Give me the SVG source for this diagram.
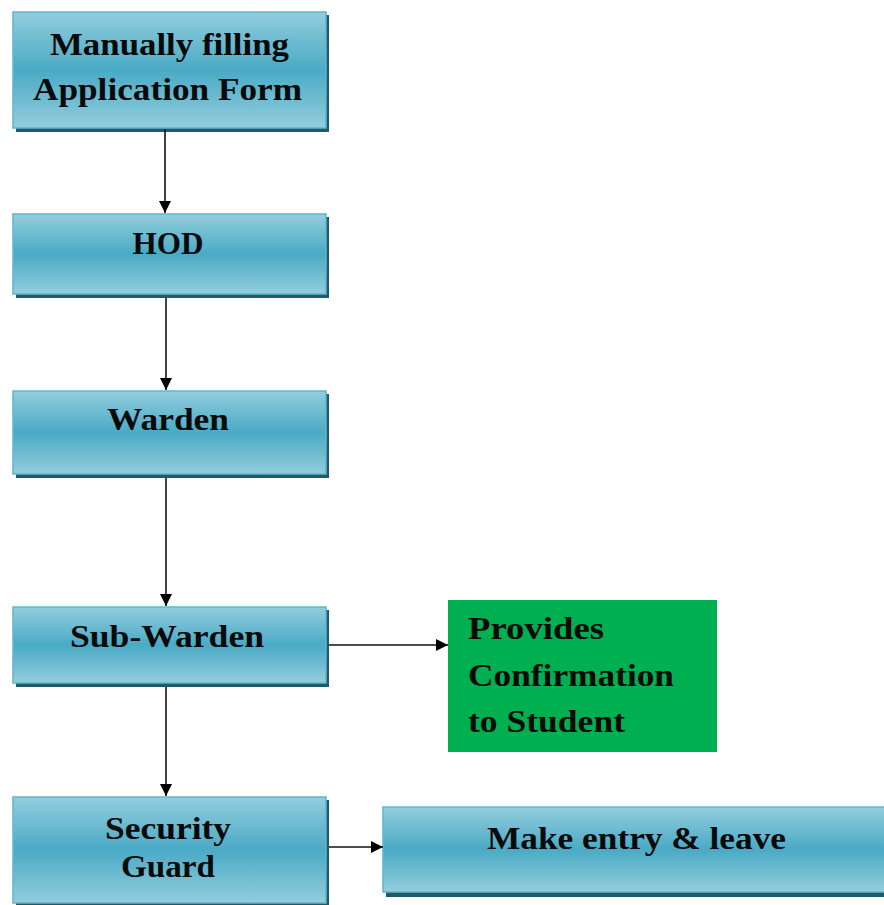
<svg xmlns="http://www.w3.org/2000/svg" width="884" height="905" viewBox="0 0 884 905">
<defs>
<linearGradient id="g" x1="0" y1="0" x2="0" y2="1">
<stop offset="0" stop-color="#93cddd"/>
<stop offset="0.5" stop-color="#4aaac5"/>
<stop offset="1" stop-color="#93cddd"/>
</linearGradient>
<marker id="ah" viewBox="0 0 10 10" refX="10" refY="5" markerWidth="12" markerHeight="12" markerUnits="userSpaceOnUse" orient="auto">
<path d="M0,0 L10,5 L0,10 z" fill="#000"/>
</marker>
<style>
.box{fill:url(#g);stroke:#5fb6cd;stroke-width:1.5}
.sh{fill:#215968}
.t{font-family:"Liberation Serif","DejaVu Serif",serif;font-weight:bold;font-size:32px;fill:#0a0a0a;text-anchor:middle}
.tl{font-family:"Liberation Serif","DejaVu Serif",serif;font-weight:bold;font-size:32px;fill:#0a0a0a}
.c{stroke:#111;stroke-width:1.6;fill:none;marker-end:url(#ah)}
</style>
</defs>
<rect width="884" height="905" fill="#fff"/>
<g id="n1">
<rect class="sh" x="16" y="15" width="313" height="117"/>
<rect class="box" x="13" y="12" width="313" height="116"/>
<text class="t" x="169.5" y="55" textLength="239" lengthAdjust="spacingAndGlyphs">Manually filling</text>
<text class="t" x="167.5" y="100" textLength="269" lengthAdjust="spacingAndGlyphs">Application Form</text>
</g>
<g id="n2">
<rect class="sh" x="16" y="217" width="313" height="81"/>
<rect class="box" x="13" y="214" width="313" height="80"/>
<text class="t" x="168" y="254" textLength="71" lengthAdjust="spacingAndGlyphs">HOD</text>
</g>
<g id="n3">
<rect class="sh" x="16" y="394" width="313" height="84"/>
<rect class="box" x="13" y="391" width="313" height="83"/>
<text class="t" x="168" y="430" textLength="122" lengthAdjust="spacingAndGlyphs">Warden</text>
</g>
<g id="n4">
<rect class="sh" x="16" y="610" width="313" height="77"/>
<rect class="box" x="13" y="607" width="313" height="76"/>
<text class="t" x="167" y="647" textLength="194" lengthAdjust="spacingAndGlyphs">Sub-Warden</text>
</g>
<g id="n5">
<rect x="448" y="600" width="269" height="152" fill="#00b050"/>
<text class="tl" x="468" y="639" textLength="136" lengthAdjust="spacingAndGlyphs">Provides</text>
<text class="tl" x="468" y="686" textLength="206" lengthAdjust="spacingAndGlyphs">Confirmation</text>
<text class="tl" x="468" y="732" textLength="157" lengthAdjust="spacingAndGlyphs">to Student</text>
</g>
<g id="n6">
<rect class="sh" x="16" y="800" width="313" height="110"/>
<rect class="box" x="13" y="797" width="313" height="106"/>
<text class="t" x="168" y="839" textLength="126" lengthAdjust="spacingAndGlyphs">Security</text>
<text class="t" x="168" y="877" textLength="94" lengthAdjust="spacingAndGlyphs">Guard</text>
</g>
<g id="n7">
<rect class="sh" x="386" y="810" width="501" height="87"/>
<rect class="box" x="383" y="807" width="503" height="85"/>
<text class="t" x="636.5" y="849" textLength="299" lengthAdjust="spacingAndGlyphs">Make entry &amp; leave</text>
</g>
<g id="connectors">
<line class="c" x1="165" y1="129" x2="165" y2="213"/>
<line class="c" x1="166" y1="298" x2="166" y2="390"/>
<line class="c" x1="166" y1="478" x2="166" y2="606"/>
<line class="c" x1="166" y1="687" x2="166" y2="796"/>
<line class="c" x1="329" y1="645" x2="448" y2="645"/>
<line class="c" x1="329" y1="847" x2="383" y2="847"/>
</g>
</svg>
